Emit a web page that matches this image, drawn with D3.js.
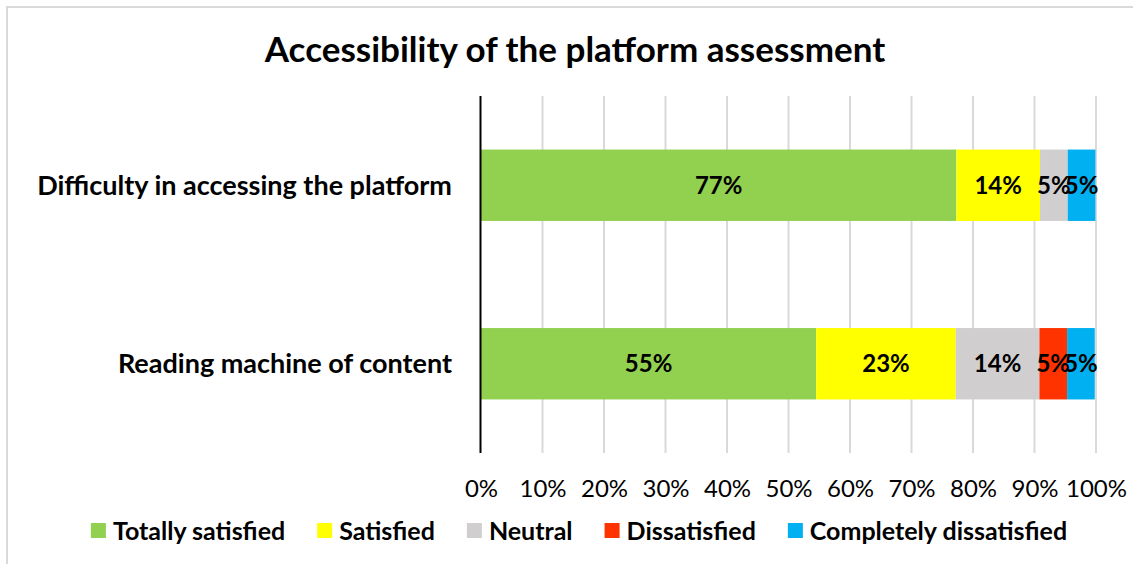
<!DOCTYPE html>
<html><head><meta charset="utf-8">
<script src="https://cdn.jsdelivr.net/npm/d3@7"></script>
<style>
html,body{margin:0;padding:0;background:#fff;}
svg{display:block;font-family:Lato,"Open Sans",sans-serif;}
</style></head>
<body>
<svg id="chart" width="1133" height="564"></svg>
<script>
const title = "Accessibility of the platform assessment";
const categories = ["Difficulty in accessing the platform", "Reading machine of content"];
const seriesNames = ["Totally satisfied", "Satisfied", "Neutral", "Dissatisfied", "Completely dissatisfied"];
const seriesColors = ["#92D050", "#FFFF00", "#D0CECE", "#FF3300", "#00B0F0"];
// percentages per category, in series order
const totallySatisfied = [77.3, 54.5];
const satisfied = [13.6, 22.7];
const neutral = [4.5, 13.6];
const dissatisfied = [0, 4.5];
const completelyDissatisfied = [4.5, 4.5];
const tickValues = [0, 10, 20, 30, 40, 50, 60, 70, 80, 90, 100];

const seriesValues = [totallySatisfied, satisfied, neutral, dissatisfied, completelyDissatisfied];
const rows = categories.map((c, i) => {
  const r = {category: c};
  seriesNames.forEach((s, j) => r[s] = seriesValues[j][i]);
  return r;
});
const stacked = d3.stack().keys(seriesNames)(rows);

const svg = d3.select("#chart");
// outer border
svg.append("rect").attr("x", 7).attr("y", 7).attr("width", 1150).attr("height", 600)
  .attr("fill", "none").attr("stroke", "#d9d9d9").attr("stroke-width", 2);

svg.append("text").attr("x", 575).attr("y", 62).attr("text-anchor", "middle")
  .attr("font-weight", "bold").attr("font-size", 35).attr("fill", "#000").text(title);

const x = d3.scaleLinear().domain([0, 100]).range([481, 1096]);
const y = d3.scaleBand().domain(categories).range([96, 453]).paddingInner(0.6).paddingOuter(0.3);

// gridlines
svg.append("g").selectAll("line").data(tickValues.slice(1)).join("line")
  .attr("x1", d => x(d)).attr("x2", d => x(d)).attr("y1", 96).attr("y2", 453)
  .attr("stroke", "#d9d9d9").attr("stroke-width", 2);

// bars
const g = svg.append("g");
stacked.forEach((layer, j) => {
  g.selectAll(null).data(layer).join("rect")
    .attr("x", d => x(d[0])).attr("width", d => x(d[1]) - x(d[0]))
    .attr("y", d => y(d.data.category)).attr("height", y.bandwidth())
    .attr("fill", seriesColors[j]);
});
stacked.forEach((layer, j) => {
  g.selectAll(null).data(layer.filter(d => d[1] - d[0] > 0)).join("text")
    .attr("x", d => (x(d[0]) + x(d[1])) / 2)
    .attr("y", d => y(d.data.category) + y.bandwidth() / 2)
    .attr("dy", "0.35em").attr("text-anchor", "middle")
    .attr("font-weight", "bold").attr("font-size", 24).attr("fill", "#000")
    .text(d => Math.round(d[1] - d[0]) + "%");
});

// y axis line
svg.append("line").attr("x1", 480.5).attr("x2", 480.5).attr("y1", 96).attr("y2", 453)
  .attr("stroke", "#000").attr("stroke-width", 2);

// category labels
svg.append("g").selectAll("text").data(categories).join("text")
  .attr("x", 452).attr("y", d => y(d) + y.bandwidth() / 2).attr("dy", "0.35em")
  .attr("text-anchor", "end").attr("font-weight", "bold").attr("font-size", 27).attr("fill", "#000")
  .text(d => d);

// x axis tick labels
const xAxis = d3.axisBottom(x).tickValues(tickValues).tickFormat(d => d + "%").tickSize(0).tickPadding(0);
const ax = svg.append("g").attr("transform", "translate(0,480)").call(xAxis);
ax.select(".domain").remove();
ax.selectAll("text").attr("font-size", 24).attr("font-family", "Lato, 'Open Sans', sans-serif").attr("fill", "#000");

// legend
const leg = svg.append("g");
const items = leg.selectAll("g").data(seriesNames).join("g");
items.append("rect").attr("width", 15).attr("height", 15).attr("y", -8).attr("fill", (d, i) => seriesColors[i]);
items.append("text").attr("x", 22).attr("dy", "0.35em").attr("font-weight", "bold").attr("font-size", 25)
  .attr("fill", "#000").text(d => d);
let widths = [];
items.each(function () { widths.push(22 + this.querySelector("text").getComputedTextLength()); });
const gap = 32;
const total = d3.sum(widths) + gap * (widths.length - 1);
let cx = 579 - total / 2;
items.attr("transform", (d, i) => { const t = `translate(${cx},531)`; cx += widths[i] + gap; return t; });
</script>
</body></html>
